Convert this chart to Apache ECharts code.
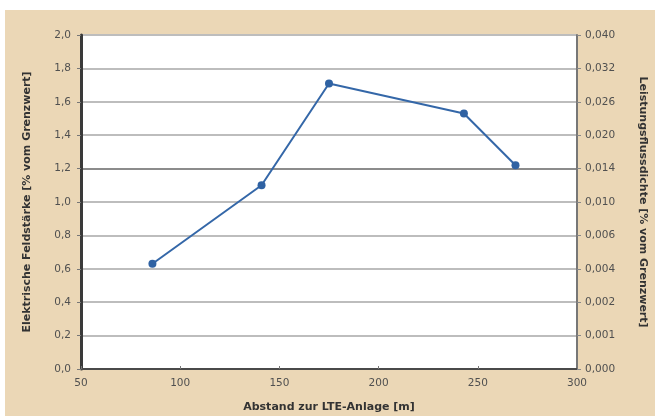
<!DOCTYPE html>
<html><head><meta charset="utf-8">
<script src="https://cdn.jsdelivr.net/npm/echarts@6/dist/echarts.min.js"></script>
<style>
html,body{margin:0;padding:0;background:#ffffff;width:655px;height:416px;overflow:hidden;}
#main{position:absolute;left:5px;top:10px;width:650px;height:406px;background:#ebd7b6;}
</style></head>
<body><div id="main"></div>
<script>
// Data
const distances = [86, 141, 175, 243, 269];
const fieldStrength = [0.63, 1.10, 1.71, 1.53, 1.22];
const leftTickLabels = ['0,0','0,2','0,4','0,6','0,8','1,0','1,2','1,4','1,6','1,8','2,0'];
const rightTickLabels = ['0,000','0,001','0,002','0,004','0,006','0,010','0,014','0,020','0,026','0,032','0,040'];
const xTitle = 'Abstand zur LTE-Anlage [m]';
const leftTitle = 'Elektrische Feldstärke [% vom Grenzwert]';
const rightTitle = 'Leistungsflussdichte [% vom Grenzwert]';

const chart = echarts.init(document.getElementById('main'), null, {renderer:'canvas'});
const font = '"DejaVu Sans", Arial, sans-serif';
const labelStyle = {color:'#505050', fontSize:10.5, fontFamily:font};
const nameStyle = {color:'#333333', fontSize:11, fontWeight:'bold', fontFamily:font};
const gridColors = leftTickLabels.map((l,i)=> i===6 ? '#8c8c8c' : '#bdbdbd');
const idx = v => Math.round(v/0.2);

chart.setOption({
  animation:false,
  grid:{left:76, top:25, right:78, bottom:47, outerBoundsMode:'none', containLabel:false,
        show:true, backgroundColor:'#ffffff', borderColor:'#6e6e6e', borderWidth:1},
  xAxis:{
    type:'value', min:50, max:300, interval:50,
    name:xTitle, nameLocation:'middle', nameGap:33, nameTextStyle:nameStyle,
    axisLine:{show:true, lineStyle:{color:'#4a4a4a', width:2}},
    axisTick:{show:true, inside:true, length:3, lineStyle:{color:'#777'}},
    axisLabel:{...labelStyle, margin:9},
    splitLine:{show:false}
  },
  yAxis:[{
    type:'value', min:0, max:2, interval:0.2, position:'left',
    name:leftTitle, nameLocation:'middle', nameGap:48, nameRotate:90, nameTextStyle:nameStyle,
    axisLine:{show:true, lineStyle:{color:'#3a3a3a', width:3}},
    axisTick:{show:true, length:4, lineStyle:{color:'#777'}},
    axisLabel:{...labelStyle, margin:10, formatter:v=>leftTickLabels[idx(v)]},
    splitLine:{show:true, lineStyle:{color:gridColors, width:2}}
  },{
    type:'value', min:0, max:2, interval:0.2, position:'right',
    name:rightTitle, nameLocation:'middle', nameGap:60, nameRotate:-90, nameTextStyle:nameStyle,
    axisLine:{show:true, lineStyle:{color:'#777', width:2}},
    axisTick:{show:true, length:4, lineStyle:{color:'#888'}},
    axisLabel:{...labelStyle, margin:8, formatter:v=>rightTickLabels[idx(v)]},
    splitLine:{show:false}
  }],
  series:[{
    type:'line', yAxisIndex:0,
    data: distances.map((d,i)=>[d, fieldStrength[i]]),
    symbol:'circle', symbolSize:8,
    lineStyle:{color:'#3467a8', width:2},
    itemStyle:{color:'#2f62a3'}
  }]
});
</script></body></html>
